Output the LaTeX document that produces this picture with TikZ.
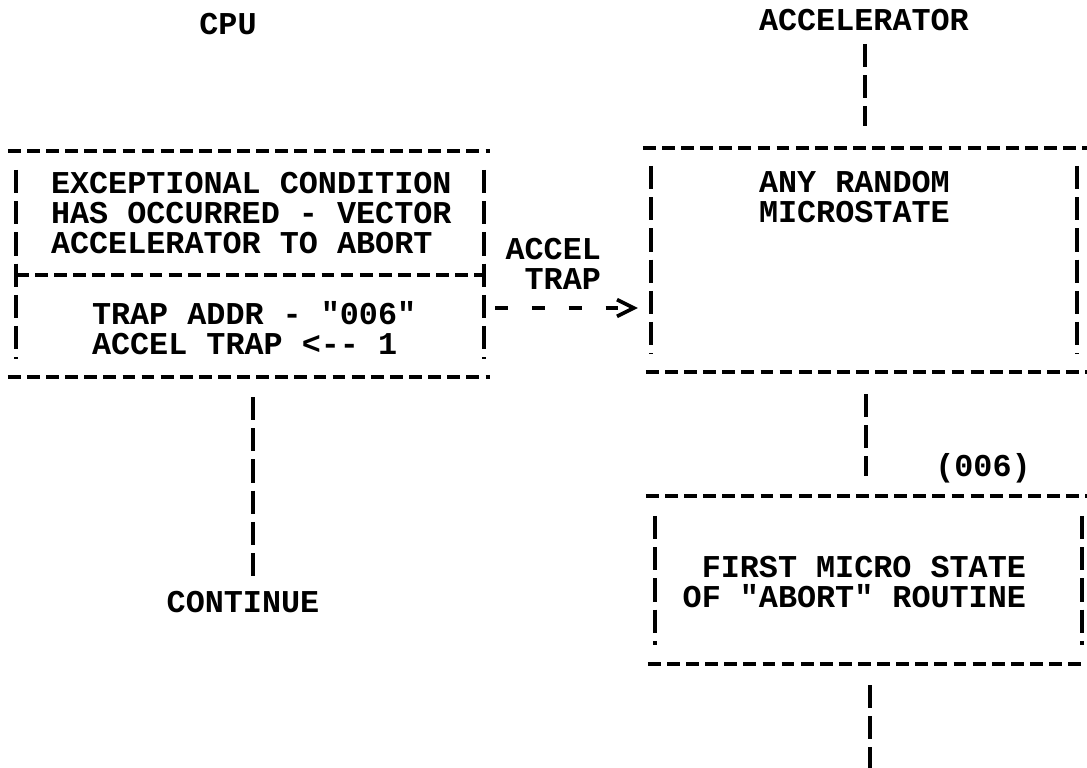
\documentclass[tikz,border=0pt]{standalone}
\usepackage{fontspec}
\setmonofont{Liberation Mono}
\usepackage{tikz}
\usetikzlibrary{calc}
\usetikzlibrary{arrows.meta}

\begin{document}
\begin{tikzpicture}[x=0.025cm, y=-0.025cm, line width=2.9pt,
    txt/.style={font=\ttfamily\bfseries\fontsize{22.6pt}{21.3pt}\selectfont, inner sep=0pt},
    box/.style={rectangle, inner sep=0pt},
    hline/.style={dash pattern=on 0.32cm off 0.1575cm},
    vbar/.style={dash pattern=on 0.58cm off 0.2cm},
    trapline/.style={dash pattern=on 0.32cm off 0.6cm, -{Straight Barb[length=0.42cm, width=0.42cm, line width=2.6pt]}}]

        \useasboundingbox (0,0) rectangle (1087,768);

        % Boxes
        \node[box, minimum width=11.95cm, minimum height=5.55cm] (exc) at (249,264) {};
        \node[box, minimum width=11.125cm, minimum height=5.5cm] (rand) at (867.5,260) {};
        \node[box, minimum width=11.05cm, minimum height=4.1cm] (first) at (869,580) {};
        \coordinate (down) at (870,768);

        \draw[hline] (exc.north west) -- (exc.north east);
        \draw[hline] (exc.south west) -- (exc.south east);
        \draw[hline] ($(exc.west)+(8,11)$) -- ($(exc.east)+(-6,11)$);
        \draw[vbar] ($(exc.north west)+(8,19)$) -- ($(exc.south west)+(8,-18)$);
        \draw[vbar] ($(exc.north east)+(-6,19)$) -- ($(exc.south east)+(-6,-18)$);

        \draw[hline] (rand.north west) -- (rand.north east);
        \draw[hline] ($(rand.south west)+(3,0)$) -- (rand.south east);
        \draw[vbar] ($(rand.north west)+(8,18)$) -- ($(rand.south west)+(8,-18)$);
        \draw[vbar] ($(rand.north east)+(-15,18)$) -- ($(rand.south east)+(-15,-18)$);

        \draw[hline] (first.north west) -- (first.north east);
        \draw[hline] ($(first.south west)+(2,0)$) -- (first.south east);
        \draw[vbar] ($(first.north west)+(9,20)$) -- ($(first.south west)+(9,-19)$);
        \draw[vbar] ($(first.north east)+(-10,20)$) -- ($(first.south east)+(-10,-19)$);

        % Texts
        \node[txt] (cpu) at (228,24) {CPU};
        \node[txt, anchor=west] (accel) at (757,20) {ACCELERATOR};
        \node[txt, anchor=west, align=left] (cond) at (49,213) {EXCEPTIONAL CONDITION\\HAS OCCURRED - VECTOR\\ACCELERATOR TO ABORT};
        \node[txt, anchor=west, align=left] (addr) at (90,328) {TRAP ADDR - "006"\\ACCEL TRAP <-\kern0pt- 1};
        \node[txt, anchor=east, align=right] (trap) at (603,264) {ACCEL\\TRAP};
        \node[txt, anchor=west, align=left] (any) at (757,197) {ANY RANDOM\\MICROSTATE};
        \node[txt, anchor=base] (vec) at (983,476) {(006)};
        \node[txt, anchor=east, align=right] (abort) at (1028,582) {FIRST MICRO STATE\\OF "ABORT" ROUTINE};
        \node[txt] (cont) at (243,602) {CONTINUE};

        % Connectors
        \draw[vbar] ($(accel.south)+(1,11)$) -- ($(accel.south |- rand.north)+(1,-22)$);
        \draw[vbar] ($(rand.south)+(-1.5,22)$) -- ($(first.north)+(-3,-20)$);
        \draw[vbar] ($(first.south)+(1,21)$) -- (down);
        \draw[vbar] ($(exc.south)+(4,20)$) -- ($(cont.north)+(10,-13)$);
        \draw[trapline] ($(exc.east)+(5,44)$) -- ($(rand.west)+(-5,48)$);

\end{tikzpicture}
\end{document}
